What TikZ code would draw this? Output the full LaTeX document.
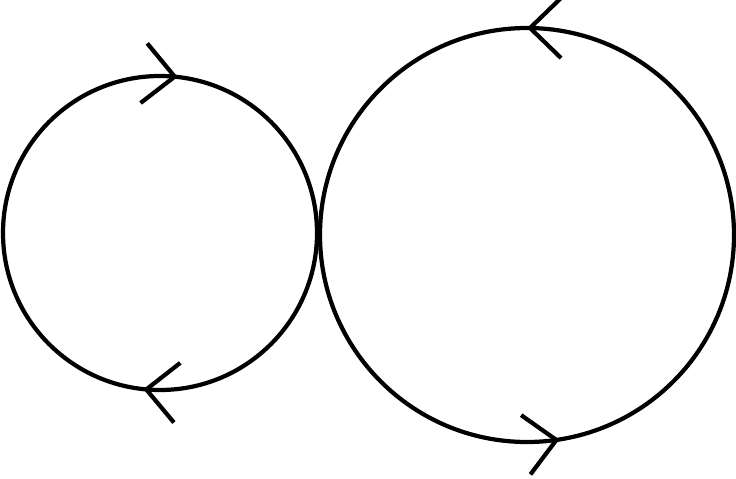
\documentclass[tikz,border=0pt]{standalone}
\usepackage{amsmath}
\usepackage{tikz}
\usetikzlibrary{arrows.meta,decorations.markings}

\tikzset{
	loop/.style={line width=2.4pt},
	barb/.tip={Straight Barb[length=0.62cm,width=1.2cm,line width=2.4pt]}
}

\begin{document}
\begin{tikzpicture}[x=0.02cm,y=0.02cm]

	\useasboundingbox (0,0) rectangle (736,478);

	\coordinate (l) at (160,245);
	\coordinate (r) at (527,243);

	% left loop, clockwise
	\draw[loop,postaction={decorate,decoration={markings,
		mark=at position 0.232 with {\arrowreversed{barb}},
		mark=at position 0.733 with {\arrowreversed{barb}}}}]
		(l) circle[radius=157];

	% right loop, counterclockwise
	\draw[loop,postaction={decorate,decoration={markings,
		mark=at position 0.25 with {\arrow{barb}},
		mark=at position 0.775 with {\arrow{barb}}}}]
		(r) circle[radius=207];

\end{tikzpicture}
\end{document}
